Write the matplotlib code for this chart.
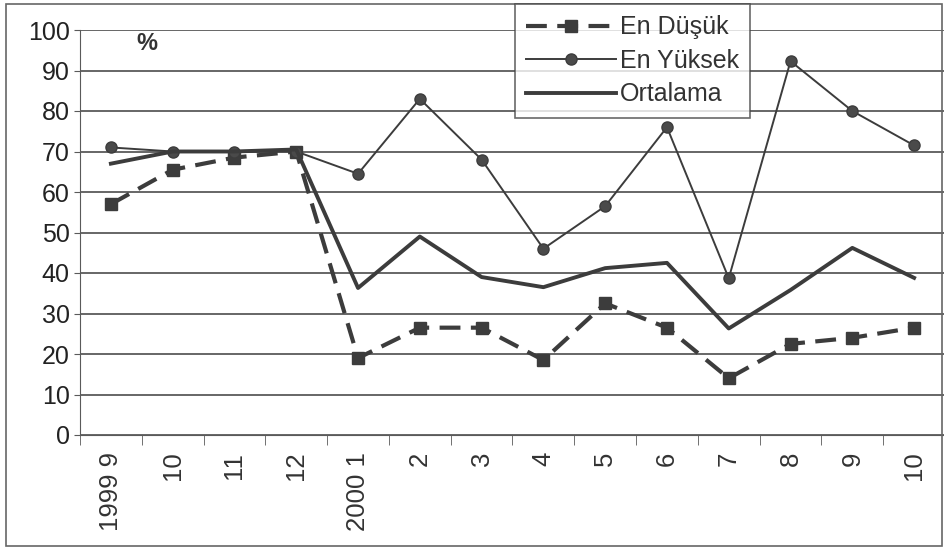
import matplotlib.pyplot as plt
from matplotlib.patches import Rectangle

# Category labels (month, with year at the first month of each year)
categories = ['1999 9', '10', '11', '12', '2000 1', '2', '3', '4', '5', '6', '7', '8', '9', '10']

# Series values (%)
en_dusuk = [57, 65.5, 68.5, 70, 19, 26.5, 26.5, 18.5, 32.5, 26.5, 14, 22.5, 24, 26.5]
en_yuksek = [71, 70, 70, 70, 64.5, 83, 68, 46, 56.5, 76, 38.7, 92.3, 80, 71.5]
ortalama = [67, 70, 70, 70.5, 36.3, 49, 39, 36.5, 41.2, 42.5, 26.3, 35.8, 46.2, 38.8]

line_col = '#3c3c3c'
grid_col = '#5a5a5a'

plt.rcParams['font.family'] = ['Liberation Sans', 'DejaVu Sans']

fig = plt.figure(figsize=(9.45, 5.5), dpi=100)
fig.patch.set_facecolor('white')
ax = fig.add_axes([80 / 945, 1 - 435 / 550, 865 / 945, 405 / 550])

x = list(range(len(categories)))

ax.plot(x, en_dusuk, color=line_col, linewidth=3, linestyle=(0, (5, 2.5)),
        marker='s', markersize=9, markerfacecolor=line_col, markeredgecolor=line_col,
        label='En Düşük')
ax.plot(x, en_yuksek, color=line_col, linewidth=1.4, linestyle='-',
        marker='o', markersize=8, markerfacecolor='#4a4a4a', markeredgecolor=line_col,
        label='En Yüksek')
ax.plot(x, ortalama, color=line_col, linewidth=2.8, linestyle='-', label='Ortalama')

ax.set_xlim(-0.5, len(categories) - 0.5)
ax.set_ylim(0, 100)
ax.set_yticks(range(0, 101, 10))
ax.tick_params(axis='y', labelsize=18, length=4, color=grid_col, labelcolor='#222222')

ax.set_xticks(x)
ax.set_xticklabels(categories, rotation=90, fontsize=18.5, color='#333333')
ax.tick_params(axis='x', which='major', length=0, pad=12)
ax.set_xticks([i + 0.5 for i in range(-1, len(categories))], minor=True)
ax.tick_params(axis='x', which='minor', length=7, color=grid_col, direction='out')

ax.grid(axis='y', color=grid_col, linewidth=1.3)
ax.set_axisbelow(True)
for side in ['top', 'right']:
    ax.spines[side].set_visible(False)
ax.spines['left'].set_color(grid_col)
ax.spines['bottom'].set_color(grid_col)

ax.text(0.42, 99.5, '%', fontsize=17, fontweight='bold', color='#333333', va='top')

leg = fig.legend(loc='upper left', bbox_to_anchor=(515 / 945, 1 - 4 / 550),
                 fontsize=18, frameon=True, fancybox=False, handlelength=3.6,
                 handletextpad=0.15, borderpad=0.45, labelspacing=0.38, borderaxespad=0)
leg.get_frame().set_edgecolor('#444444')
leg.get_frame().set_linewidth(1.2)
for t in leg.get_texts():
    t.set_color('#333333')

# outer chart border
fig.patches.append(Rectangle((6 / 945, 4 / 550), 936 / 945, 542 / 550, transform=fig.transFigure,
                             fill=False, edgecolor='#666666', linewidth=1.2))

fig.savefig('out.png', dpi=100)
